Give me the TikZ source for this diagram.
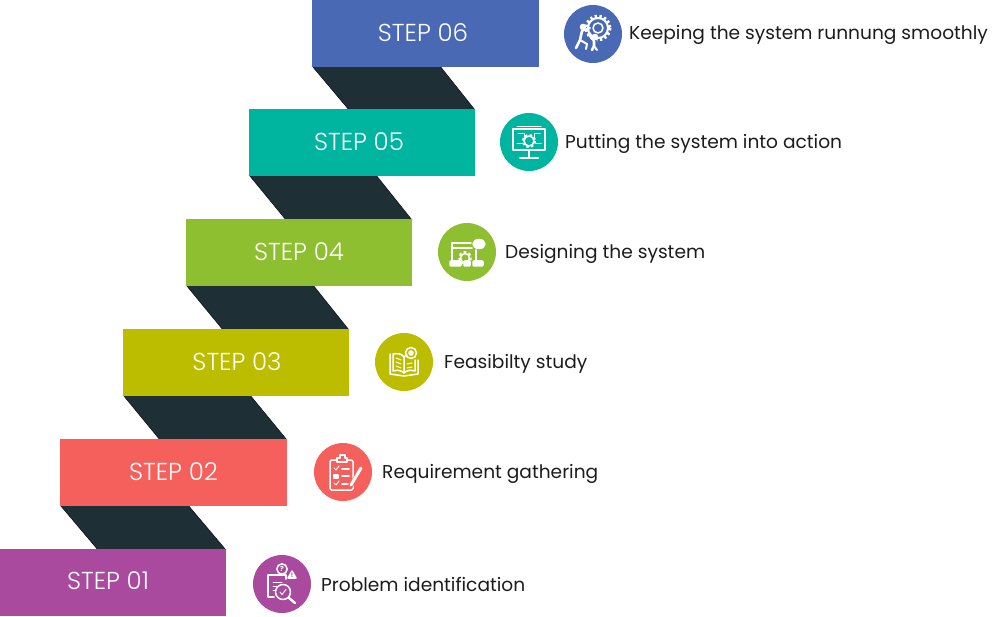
\documentclass[tikz,border=0pt]{standalone}
\usepackage{fontspec}
\setmainfont{Poppins}
\newfontfamily\steplight{Poppins Light}
\usepackage{tikz}
\usetikzlibrary{calc}

\definecolor{stepsix}{HTML}{4A69B5}
\definecolor{stepfive}{HTML}{00B5A0}
\definecolor{stepfour}{HTML}{8DBF30}
\definecolor{stepthree}{HTML}{BDBD00}
\definecolor{steptwo}{HTML}{F5605C}
\definecolor{stepone}{HTML}{A94A9F}
\definecolor{stairdark}{HTML}{1E2F36}
\definecolor{labelink}{HTML}{1C1C1C}

\begin{document}
\begin{tikzpicture}[x=1pt,y=-1pt]
\tikzstyle stepbox=[style={minimum width=226.5pt, minimum height=67pt, inner sep=0pt}];
\tikzstyle steptext=[style={inner sep=0pt, text=white, font=\steplight\fontsize{24.5}{27}\selectfont}];
\tikzstyle steplabel=[style={anchor=west, inner sep=0pt, text=labelink, font=\fontsize{18.6}{22}\selectfont}];
\tikzstyle stair=[style={fill=stairdark}];
\tikzstyle iconbg=[style={circle, minimum size=58pt, inner sep=0pt}];
\tikzstyle iconline=[style={draw=white, line width=1.5pt, line cap=round, line join=round}];
\tikzstyle icongear=[style={draw=white, line width=3pt, dash pattern=on 2.4pt off 2.4pt}];
\useasboundingbox (0,0) rectangle (1000,617);
% stairs between the steps
\draw[stair] (312,66) -- (440,66) -- (475,110) -- (349,110) -- cycle;
\draw[stair] (249,175) -- (376,175) -- (412,220) -- (286,220) -- cycle;
\draw[stair] (186,285) -- (313,285) -- (349,330) -- (223,330) -- cycle;
\draw[stair] (123,395) -- (250,395) -- (287,440) -- (160,440) -- cycle;
\draw[stair] (60,505) -- (188,505) -- (226,550) -- (98,550) -- cycle;
% steps
\node[stepbox, fill=stepsix] (step6) at (425.5,33.5) {};
\node[stepbox, fill=stepfive] (step5) at (362,142.5) {};
\node[stepbox, fill=stepfour] (step4) at (299,252.5) {};
\node[stepbox, fill=stepthree] (step3) at (236,362.5) {};
\node[stepbox, fill=steptwo] (step2) at (173.5,472.5) {};
\node[stepbox, fill=stepone] (step1) at (113,582.5) {};
\node[steptext] (text6) at (423,33) {STEP 06};
\node[steptext] (text5) at (359,142) {STEP 05};
\node[steptext] (text4) at (299,252) {STEP 04};
\node[steptext] (text3) at (237,362) {STEP 03};
\node[steptext] (text2) at (173.5,472) {STEP 02};
\node[steptext] (text1) at (108,581) {STEP 01};
% round icons
\node[iconbg, fill=stepsix] (icon6) at (593,34) {};
\node[iconbg, fill=stepfive] (icon5) at (529,142) {};
\node[iconbg, fill=stepfour] (icon4) at (467,252) {};
\node[iconbg, fill=stepthree] (icon3) at (404,362) {};
\node[iconbg, fill=steptwo] (icon2) at (343,472) {};
\node[iconbg, fill=stepone] (icon1) at (282,584) {};
% texts
\node[steplabel] (label6) at (629,35) {Keeping the system runnung smoothly};
\node[steplabel] (label5) at (565,144) {Putting the system into action};
\node[steplabel] (label4) at (505,254) {Designing the system};
\node[steplabel] (label3) at (444,364) {Feasibilty study};
\node[steplabel] (label2) at (382,474) {Requirement gathering};
\node[steplabel] (label1) at (321,584) {Problem identification};
% icon 6: two people and a gear
\begin{scope}[shift={(593,34)}]
\draw[icongear] (5,-6) circle (12);
\draw[iconline, line width=2pt] (5,-6) circle (10);
\draw[iconline] (5,-6) circle (5);
\draw[iconline, fill=white] (-10,-7) circle (2.5);
\draw[iconline, line width=2.6pt] (-11,-3) -- (-13,6) -- (-17,14);
\draw[iconline, line width=2pt] (-13,6) -- (-6,10) -- (-7,15);
\draw[iconline, line width=2pt] (-11,-3) -- (-3,-6);
\draw[iconline, draw=stepsix, line width=5pt] (1,7) -- (1,12);
\draw[iconline, fill=white] (2,3) circle (2.5);
\draw[iconline, line width=2.6pt] (1,7) -- (1,12) -- (-1,16);
\draw[iconline, line width=2pt] (1,12) -- (4,16);
\draw[iconline, line width=2pt] (1,7) -- (-5,0);
\end{scope}
% icon 5: monitor with a circuit
\begin{scope}[shift={(529,142)}]
\draw[iconline] (-16,-13) rectangle (16,8);
\draw[iconline] (0,8) -- (0,15);
\draw[iconline, line width=2pt] (-9,16) -- (9,16);
\draw[icongear, line width=2pt] (0,-1) circle (6);
\draw[iconline] (0,-1) circle (5);
\draw[iconline, line width=1pt] (-12,-15) -- (12,-15);
\draw[iconline, line width=1pt] (-11,-8) -- (-5,-8) -- (-5,-4);
\draw[iconline, line width=1pt] (11,-8) -- (5,-8) -- (5,-4);
\draw[iconline, line width=1pt] (-12,2) -- (-7,2);
\draw[iconline, line width=1pt] (12,2) -- (7,2);
\end{scope}
% icon 4: window, gear and bubble
\begin{scope}[shift={(467,252)}]
\draw[iconline] (-15,8) -- (-15,-9) -- (4,-9);
\draw[iconline] (-15,-4) -- (5,-4);
\draw[iconline] (9,-2) -- (9,8);
\draw[iconline, fill=white] (12,-8) ellipse (6 and 4.5);
\draw[icongear] (-2,6) circle (5.5);
\draw[iconline] (-2,6) circle (4.5);
\draw[iconline, fill=white, rounded corners=1pt] (-17,9) rectangle (-6,14);
\draw[iconline, fill=white, rounded corners=1pt] (-3,9) rectangle (3,14);
\draw[iconline, fill=white, rounded corners=1pt] (6,9) rectangle (16,14);
\end{scope}
% icon 3: open book with seal
\begin{scope}[shift={(404,362)}]
\draw[iconline] (-14,-8) -- (-14,12) -- (0,14) -- (14,12) -- (14,-2);
\draw[iconline] (-11,-8) .. controls (-6,-9) and (-2,-8) .. (0,-5) -- (0,11) .. controls (-3,8) and (-7,8) .. (-11,9) -- cycle;
\draw[iconline] (0,-5) .. controls (1,-6) and (2,-7) .. (3,-7);
\draw[iconline] (0,11) .. controls (3,8) and (7,8) .. (11,9) -- (11,-2);
\draw[iconline, line width=1pt] (-8,-4) -- (-3,-2);
\draw[iconline, line width=1pt] (-8,0) -- (-3,2);
\draw[iconline, line width=1pt] (-8,4) -- (-3,6);
\draw[iconline, line width=1pt] (8,1) -- (3,2);
\draw[iconline, line width=1pt] (8,5) -- (3,6);
\draw[iconline] (7,-9) circle (5.5);
\draw[iconline, fill=white] (7,-9) circle (2);
\end{scope}
% icon 2: clipboard with pencil
\begin{scope}[shift={(343,472)}]
\draw[iconline, rounded corners=1.5pt] (-13,-12) rectangle (10,18);
\draw[iconline, fill=steptwo] (-6,-10) -- (-6,-14) -- (-3,-14) -- (-3,-17) -- (2,-17) -- (2,-14) -- (4,-14) -- (4,-10) -- cycle;
\draw[iconline, line width=1pt] (-9,-4) -- (-7,-2) -- (-4,-6);
\draw[iconline, line width=1.6pt] (-1,-3) -- (6,-3);
\draw[iconline, fill=white] (-9,3) rectangle (-5,6);
\draw[iconline, line width=1.6pt] (-1,4) -- (6,4);
\draw[iconline, line width=1pt] (-9,11) -- (-7,13) -- (-4,9);
\draw[iconline, line width=1.6pt] (-1,12) -- (5,12);
\draw[iconline, line width=4.5pt, draw=steptwo] (7,15) -- (18,-3);
\draw[iconline, line width=3pt] (8,13) -- (18,-4);
\end{scope}
% icon 1: clipboard with magnifier
\begin{scope}[shift={(282,583)}]
\draw[iconline] (-14,-8) -- (-14,14) -- (-8,14);
\draw[iconline] (-14,-8) -- (4,-8) -- (4,-4);
\draw[iconline, line width=1pt] (-9,-1) -- (0,-1);
\draw[iconline, line width=1pt] (-9,3) -- (-5,3);
\draw[iconline, line width=1pt] (-9,7) -- (-7,7);
\draw[iconline] (0,-14) circle (5.2);
\node[inner sep=0pt, text=white, font=\bfseries\fontsize{7}{7}\selectfont] (qmark) at (0,-14) {?};
\draw[iconline, fill=white] (6,-5) -- (10,-12) -- (14,-5) -- cycle;
\node[inner sep=0pt, text=stepone, font=\bfseries\fontsize{6}{6}\selectfont] (wmark) at (10,-7.2) {!};
\draw[iconline] (1,9) circle (7.5);
\draw[iconline, line width=1pt] (-2,9) -- (0,11.5) -- (4,6.5);
\draw[iconline, line width=2.4pt] (7,15) -- (13,20);
\end{scope}
\end{tikzpicture}
\end{document}
